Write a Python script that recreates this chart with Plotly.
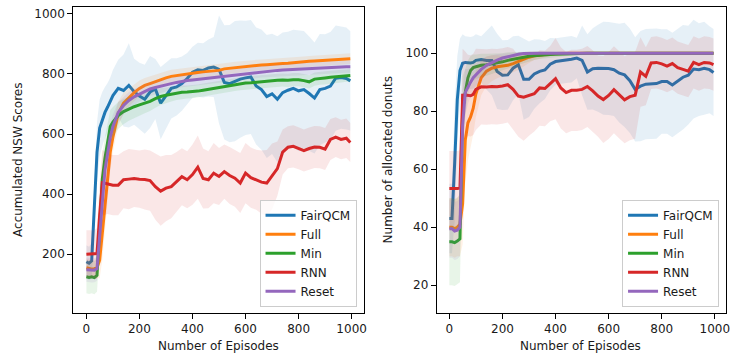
import plotly.graph_objects as go

EPISODES = [0, 10, 20, 30, 40, 50, 60, 70, 80, 90, 100, 120, 140, 160, 180, 200, 220, 240, 260, 280,
            300, 320, 340, 360, 380, 400, 420, 440, 460, 480, 500, 520, 540, 560, 580, 600, 620, 640,
            660, 680, 700, 720, 740, 760, 780, 800, 820, 840, 860, 880, 900, 920, 940, 960, 980, 995]

SERIES = ["FairQCM", "Full", "Min", "RNN", "Reset"]
COLORS = ["#1f77b4", "#ff7f0e", "#2ca02c", "#d62728", "#9467bd"]

# ---- Left panel: Accumulated NSW Scores ----
L_FAIRQCM = [175, 170, 178, 380, 540, 620, 650, 672, 690, 708, 728, 752, 745, 762, 741, 727, 716, 740, 750, 703,
             728, 752, 757, 768, 785, 806, 814, 812, 820, 823, 815, 772, 768, 776, 783, 787, 790, 760, 748, 725,
             734, 716, 738, 746, 752, 744, 748, 735, 720, 748, 752, 760, 786, 788, 785, 777]
L_FULL = [155, 152, 150, 152, 155, 180, 260, 360, 450, 540, 590, 668, 703, 722, 738, 752, 762, 768, 775, 782,
          787, 792, 795, 798, 801, 803, 805, 807, 809, 810, 812, 817, 819, 822, 824, 826, 827, 829, 830, 831,
          833, 834, 835, 836, 838, 839, 840, 842, 843, 844, 845, 846, 847, 848, 850, 851]
L_MIN = [125, 123, 125, 122, 130, 300, 450, 520, 580, 625, 640, 662, 675, 684, 691, 697, 703, 709, 718, 725,
         729, 733, 737, 739, 740, 741, 743, 746, 749, 752, 756, 759, 762, 765, 768, 770, 771, 773, 775, 777,
         778, 779, 780, 779, 781, 781, 778, 774, 783, 786, 787, 789, 791, 794, 796, 795]
L_RNN = [200, 200, 200, 200, 202, 330, 438, 436, 434, 432, 430, 430, 448, 450, 452, 450, 449, 445, 425, 410,
         420, 425, 440, 458, 448, 465, 490, 452, 448, 470, 459, 475, 462, 453, 437, 470, 455, 448, 440, 437,
         459, 485, 540, 556, 559, 553, 545, 552, 557, 556, 550, 582, 590, 582, 586, 572]
L_RESET = [148, 148, 146, 147, 152, 250, 370, 480, 540, 590, 625, 672, 695, 712, 724, 733, 742, 750, 755, 760,
           763, 768, 772, 776, 778, 780, 782, 784, 786, 788, 790, 793, 795, 798, 800, 802, 804, 806, 808, 809,
           810, 812, 813, 814, 816, 817, 818, 819, 820, 821, 822, 822, 823, 823, 824, 824]

L_FAIRQCM_STD = [55, 55, 60, 90, 100, 95, 90, 85, 80, 80, 85, 95, 120, 140, 110, 110, 115, 120, 100, 120,
                 110, 100, 95, 90, 85, 85, 90, 90, 95, 100, 180, 190, 195, 200, 195, 190, 190, 195, 200, 205,
                 200, 210, 200, 195, 195, 200, 195, 190, 185, 185, 180, 180, 175, 170, 170, 165]
L_FULL_STD = [30, 30, 30, 30, 35, 60, 80, 80, 70, 60, 50, 40, 35, 30, 28, 26, 25, 25, 24, 23,
              22, 22, 21, 21, 20, 20, 20, 20, 20, 20, 20, 19, 19, 19, 19, 19, 18, 18, 18, 18,
              18, 18, 18, 18, 18, 18, 18, 18, 18, 18, 18, 18, 18, 18, 18, 18]
L_MIN_STD = [55, 55, 55, 55, 55, 80, 80, 70, 60, 55, 50, 45, 42, 40, 38, 36, 34, 32, 30, 28,
             26, 25, 24, 23, 22, 22, 22, 22, 22, 22, 22, 22, 22, 22, 22, 22, 22, 22, 22, 22,
             22, 22, 22, 22, 22, 22, 22, 22, 22, 22, 22, 22, 22, 22, 22, 22]
L_RNN_STD = [80, 80, 80, 80, 85, 110, 110, 105, 100, 100, 100, 100, 95, 100, 95, 95, 100, 100, 110, 115,
             110, 105, 100, 95, 95, 100, 105, 100, 95, 100, 95, 90, 95, 95, 100, 100, 100, 100, 105, 110,
             110, 90, 75, 70, 70, 70, 70, 70, 70, 70, 70, 68, 66, 66, 66, 65]
L_RESET_STD = [40, 40, 40, 40, 40, 70, 80, 70, 55, 45, 40, 35, 30, 28, 26, 25, 24, 23, 22, 22,
               21, 21, 20, 20, 20, 20, 20, 20, 20, 20, 20, 20, 20, 20, 20, 20, 20, 20, 20, 20,
               20, 20, 20, 20, 20, 20, 20, 20, 20, 20, 20, 20, 20, 20, 20, 20]

# ---- Right panel: Number of allocated donuts ----
R_FAIRQCM = [43, 43, 62, 84, 94, 96.5, 96.8, 96.7, 96.6, 96.8, 97.5, 97.8, 97.5, 97.5, 93.7, 92.4, 92.5, 94.8, 96, 91,
             91, 92.8, 93.7, 94.2, 96.2, 97.1, 97.3, 97.7, 97.9, 98.3, 97.5, 93.5, 94.6, 94.8, 94.8, 94.7, 94.3, 93.1, 92.5, 90.5,
             87.5, 88.6, 89.3, 89.5, 89.5, 90.2, 90.2, 89, 90.5, 91.7, 92.4, 94.5, 94.3, 94.8, 94.3, 93.3]
R_FULL = [40, 40, 39.5, 40, 41, 48, 70, 76, 78, 81, 86, 91.5, 93.8, 94.8, 95.3, 95.5, 95.8, 96.4, 97.2, 98,
          98.6, 99.1, 99.4, 99.6, 99.8, 99.9, 100, 100, 100, 100, 100, 100, 100, 100, 100, 100, 100, 100, 100, 100,
          100, 100, 100, 100, 100, 100, 100, 100, 100, 100, 100, 100, 100, 100, 100, 100]
R_MIN = [35, 35, 34.7, 35.2, 36, 80, 86.5, 91.5, 94, 95, 95.3, 95.8, 96, 96.3, 96.6, 97, 97.5, 97.9, 98.3, 98.6,
         98.9, 99.1, 99.3, 99.4, 99.5, 99.6, 99.7, 99.8, 99.8, 99.9, 99.9, 100, 100, 100, 100, 100, 100, 100, 100, 100,
         100, 100, 100, 100, 100, 100, 100, 100, 100, 100, 100, 100, 100, 100, 100, 100]
R_RNN = [53.3, 53.3, 53.2, 53.3, 53.5, 85.5, 85.6, 85.4, 85.3, 85.8, 87.5, 88.4, 88.3, 88.5, 88.4, 88.7, 89.1, 87.5, 85.2, 84.8,
         85.5, 86, 88, 87.8, 89.5, 91.2, 88, 86.4, 87.2, 87.2, 87.5, 88.5, 87, 85.2, 84, 85.4, 87.4, 85.6, 83.9, 85,
         85.5, 93.5, 92, 96.6, 96.8, 96.3, 95.5, 96.4, 95, 94.4, 93.8, 96.8, 96, 96.8, 96.6, 96]
R_RESET = [39.5, 39.5, 38.7, 39, 40, 75, 86.5, 88.5, 90, 91.5, 92.5, 94.4, 95.8, 96.8, 97.6, 98.3, 98.8, 99.3, 99.6, 99.9,
           100, 100, 100, 100, 100, 100, 100, 100, 100, 100, 100, 100, 100, 100, 100, 100, 100, 100, 100, 100,
           100, 100, 100, 100, 100, 100, 100, 100, 100, 100, 100, 100, 100, 100, 100, 100]

R_FAIRQCM_STD = [12, 12, 20, 15, 11, 10, 9, 9, 9, 9, 9, 8, 10, 12, 13, 12, 12, 11, 10, 14,
                 13, 12, 11, 10, 9, 8, 8, 8, 8, 7, 12, 13, 14, 15, 16, 16, 16, 17, 18, 18,
                 18, 19, 19, 19, 19, 18, 18, 18, 18, 18, 17, 17, 16, 16, 15, 15]
R_FULL_STD = [10, 10, 10, 10, 11, 14, 15, 13, 11, 9, 8, 6, 5, 4.5, 4, 3.5, 3.5, 3, 3, 2.5,
              2, 1.5, 1.2, 1, 0.8, 0.6, 0.5, 0.4, 0.3, 0.2, 0.1, 0, 0, 0, 0, 0, 0, 0, 0, 0,
              0, 0, 0, 0, 0, 0, 0, 0, 0, 0, 0, 0, 0, 0, 0, 0]
R_MIN_STD = [15, 15, 15, 15, 15, 12, 8, 6, 5, 4.5, 4.2, 4, 3.8, 3.5, 3.2, 3, 2.8, 2.5, 2.2, 2,
             1.8, 1.5, 1.3, 1.1, 1, 0.9, 0.8, 0.7, 0.6, 0.5, 0.4, 0.3, 0.2, 0.1, 0, 0, 0, 0, 0, 0,
             0, 0, 0, 0, 0, 0, 0, 0, 0, 0, 0, 0, 0, 0, 0, 0]
R_RNN_STD = [13, 13, 13, 13, 13, 16, 15, 14, 14, 14, 14, 13, 13, 13, 13, 13, 13, 14, 14, 15,
             14, 13, 13, 13, 13, 14, 14, 14, 14, 14, 14, 14, 14, 14, 15, 15, 15, 15, 15, 15,
             15, 12, 10, 9, 9, 9, 9, 9, 9, 9, 9, 9, 9, 9, 9, 9]
R_RESET_STD = [10, 10, 10, 10, 10, 12, 8, 6, 5, 4.5, 4, 3.5, 3, 2.5, 2, 1.5, 1.2, 1, 0.7, 0.4,
               0.2, 0, 0, 0, 0, 0, 0, 0, 0, 0, 0, 0, 0, 0, 0, 0, 0, 0, 0, 0,
               0, 0, 0, 0, 0, 0, 0, 0, 0, 0, 0, 0, 0, 0, 0, 0]

LEFT_MEANS = [L_FAIRQCM, L_FULL, L_MIN, L_RNN, L_RESET]
LEFT_STDS = [L_FAIRQCM_STD, L_FULL_STD, L_MIN_STD, L_RNN_STD, L_RESET_STD]
RIGHT_MEANS = [R_FAIRQCM, R_FULL, R_MIN, R_RNN, R_RESET]
RIGHT_STDS = [R_FAIRQCM_STD, R_FULL_STD, R_MIN_STD, R_RNN_STD, R_RESET_STD]

X_TICKS = [0, 200, 400, 600, 800, 1000]
LEFT_Y_TICKS = [200, 400, 600, 800, 1000]
RIGHT_Y_TICKS = [20, 40, 60, 80, 100]

W, H = 733, 358
FONT = "DejaVu Sans"


def rgba(hex_color, a):
    h = hex_color.lstrip("#")
    r, g, b = int(h[0:2], 16), int(h[2:4], 16), int(h[4:6], 16)
    return f"rgba({r},{g},{b},{a})"


fig = go.Figure()


def add_panel(means, stds, xref, yref, legend_name):
    for name, color, m, s in zip(SERIES, COLORS, means, stds):
        assert len(m) == len(EPISODES) and len(s) == len(EPISODES), name
        upper = [a + b for a, b in zip(m, s)]
        lower = [a - b for a, b in zip(m, s)]
        fig.add_trace(go.Scatter(
            x=EPISODES + EPISODES[::-1], y=upper + lower[::-1],
            fill="toself", fillcolor=rgba(color, 0.11), line=dict(width=0),
            mode="lines", hoverinfo="skip", showlegend=False,
            xaxis=xref, yaxis=yref))
        fig.add_trace(go.Scatter(
            x=EPISODES, y=m, mode="lines", name=name,
            line=dict(color=color, width=3),
            xaxis=xref, yaxis=yref, legend=legend_name))


add_panel(LEFT_MEANS, LEFT_STDS, "x", "y", "legend")
add_panel(RIGHT_MEANS, RIGHT_STDS, "x2", "y2", "legend2")

axis_common = dict(
    showgrid=False, zeroline=False, showline=True, mirror=True,
    linecolor="black", linewidth=1, ticks="outside", ticklen=5,
    tickcolor="black", tickfont=dict(family=FONT, size=12, color="#1a1a1a"),
)

y_dom = [1 - 312.5 / H, 1 - 7 / H]

fig.update_layout(
    width=W, height=H,
    margin=dict(l=0, r=0, t=0, b=0),
    paper_bgcolor="white", plot_bgcolor="white",
    font=dict(family=FONT, size=12, color="black"),
    xaxis=dict(domain=[73.5 / W, 365 / W], range=[-49.75, 1044.75], tickvals=X_TICKS,
               anchor="y", **axis_common),
    yaxis=dict(domain=y_dom, range=[6, 1023], tickvals=LEFT_Y_TICKS, anchor="x", **axis_common),
    xaxis2=dict(domain=[438.5 / W, 728.7 / W], range=[-47.6, 1041], tickvals=X_TICKS,
                anchor="y2", **axis_common),
    yaxis2=dict(domain=y_dom, range=[10.6, 115.9], tickvals=RIGHT_Y_TICKS, anchor="x2", **axis_common),
    legend=dict(x=358 / W, xanchor="right", y=1 - 306.7 / H, yanchor="bottom",
                bgcolor="rgba(255,255,255,0.8)", bordercolor="#cccccc", borderwidth=1,
                font=dict(family=FONT, size=12, color="#1a1a1a"), itemwidth=30),
    legend2=dict(x=722 / W, xanchor="right", y=1 - 306.7 / H, yanchor="bottom",
                 bgcolor="rgba(255,255,255,0.8)", bordercolor="#cccccc", borderwidth=1,
                 font=dict(family=FONT, size=12, color="#1a1a1a"), itemwidth=30),
    showlegend=True,
)

title_font = dict(family=FONT, size=12, color="#1a1a1a")
fig.add_annotation(text="Number of Episodes", x=219 / W, y=1 - 345.7 / H, xref="paper", yref="paper",
                   showarrow=False, font=title_font, xanchor="center", yanchor="middle")
fig.add_annotation(text="Number of Episodes", x=583 / W, y=1 - 345.7 / H, xref="paper", yref="paper",
                   showarrow=False, font=title_font, xanchor="center", yanchor="middle")
fig.add_annotation(text="Accumulated NSW Scores", x=18 / W, y=1 - 160 / H, xref="paper", yref="paper",
                   showarrow=False, font=title_font, textangle=-90, xanchor="center", yanchor="middle")
fig.add_annotation(text="Number of allocated donuts", x=390 / W, y=1 - 160 / H, xref="paper", yref="paper",
                   showarrow=False, font=title_font, textangle=-90, xanchor="center", yanchor="middle")

fig.write_html("out.html")
